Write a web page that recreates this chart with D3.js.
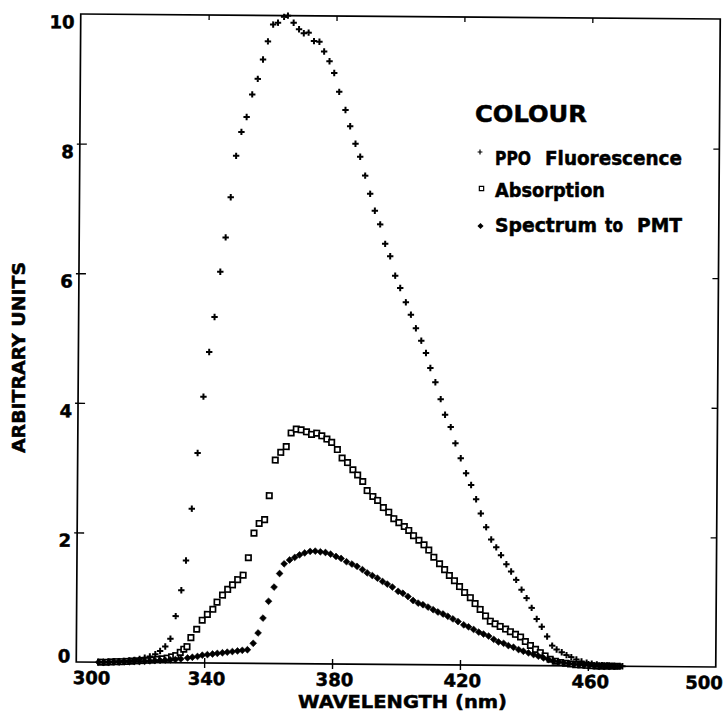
<!DOCTYPE html>
<html>
<head>
<meta charset="utf-8">
<script src="https://cdn.jsdelivr.net/npm/d3@7"></script>
<style>
  body { margin: 0; background: #fff; }
  svg { display: block; }
</style>
</head>
<body>
<svg id="chart" width="727" height="712"></svg>
<script>
// ---- data: wavelength (nm) and intensity (arbitrary units) ----
const ppoWavelength = [308.6,310.2,311.8,313.4,315.0,316.6,318.2,319.8,321.4,323.0,324.7,326.2,327.8,329.4,331.0,332.7,334.1,335.8,337.5,339.2,340.9,342.5,344.2,345.8,347.3,348.9,350.5,352.1,353.8,355.5,357.1,358.6,360.2,361.7,363.6,364.8,366.6,368.3,369.8,371.3,373.0,374.7,376.2,377.9,379.4,381.0,383.0,384.5,386.2,387.7,389.3,390.9,392.4,394.1,395.7,397.3,398.9,400.5,402.3,403.9,405.5,407.2,408.7,410.1,411.7,413.4,414.8,416.6,418.1,419.8,421.5,423.1,424.7,426.2,427.9,429.5,431.1,432.6,434.3,435.8,437.4,439.1,440.7,442.3,443.9,445.5,447.2,448.8,450.2,451.8,453.3,454.8,456.4,458.0,459.6,461.2,462.8,464.4,466.0,467.6,469.2,470.8];
const ppoValue = [0.0,0.005,0.01,0.015,0.02,0.03,0.04,0.055,0.075,0.095,0.13,0.18,0.25,0.37,0.72,1.12,1.58,2.38,3.24,4.11,4.80,5.34,6.04,6.57,7.19,7.83,8.20,8.43,8.78,9.02,9.32,9.60,9.86,9.89,9.98,10.0,9.89,9.79,9.73,9.74,9.61,9.60,9.45,9.30,9.12,8.83,8.55,8.30,8.03,7.83,7.54,7.26,7.00,6.79,6.49,6.30,6.00,5.81,5.59,5.40,5.19,5.00,4.81,4.58,4.36,4.10,3.86,3.67,3.42,3.19,2.96,2.78,2.56,2.34,2.13,1.94,1.82,1.70,1.56,1.45,1.32,1.17,1.04,0.89,0.72,0.60,0.45,0.31,0.25,0.21,0.165,0.135,0.10,0.07,0.05,0.035,0.025,0.015,0.01,0.005,0.0,0.0];

const absWavelength = [307.6,309.2,310.8,312.4,314.0,315.6,317.2,318.8,320.4,322.0,323.6,325.2,326.8,328.4,329.8,331.1,332.5,333.6,334.6,335.8,337.6,339.3,340.9,342.6,343.9,345.6,347.2,348.7,350.3,352.0,353.6,355.3,356.9,358.6,360.0,361.8,363.5,365.2,366.7,368.3,369.8,371.5,373.1,374.7,376.3,377.9,379.4,381.2,382.7,384.4,386.1,387.6,389.2,390.6,392.4,393.9,395.7,397.4,399.0,400.6,402.3,403.7,405.2,406.9,408.5,410.0,411.6,413.4,415.0,416.5,418.1,419.7,421.3,423.1,424.6,426.2,427.9,429.4,430.9,432.5,434.2,435.7,437.3,438.9,440.4,442.0,443.6,445.1,446.6,448.2,449.8,451.4,453.0,454.6,456.2,457.8,459.4,461.0,462.6,464.2,465.8,467.4,469.0];
const absValue = [0.0,0.0,0.005,0.01,0.01,0.015,0.02,0.025,0.03,0.035,0.04,0.05,0.06,0.07,0.09,0.11,0.16,0.21,0.25,0.39,0.52,0.66,0.75,0.83,0.94,1.05,1.14,1.21,1.29,1.36,1.63,2.01,2.16,2.22,2.59,3.14,3.26,3.35,3.56,3.62,3.61,3.58,3.54,3.56,3.52,3.47,3.42,3.31,3.18,3.11,3.00,2.92,2.82,2.68,2.59,2.53,2.42,2.35,2.25,2.19,2.13,2.07,1.99,1.92,1.85,1.77,1.66,1.56,1.47,1.38,1.30,1.21,1.12,1.04,0.95,0.86,0.76,0.68,0.64,0.60,0.56,0.52,0.48,0.44,0.37,0.31,0.25,0.20,0.15,0.10,0.07,0.05,0.04,0.03,0.02,0.015,0.01,0.005,0.0,0.0,0.0,0.0,0.0];

const pmtWavelength = [307.0,308.6,310.2,311.8,313.4,315.0,316.6,318.2,319.8,321.4,323.0,324.6,326.2,327.8,329.4,331.0,332.7,334.8,336.3,337.9,339.4,341.0,342.6,344.1,345.7,347.2,348.8,350.4,351.9,353.5,355.3,356.8,358.3,360.0,361.7,363.4,364.8,366.5,368.1,369.6,371.2,372.9,374.5,376.1,377.7,379.3,381.0,382.6,384.3,386.0,387.6,389.3,390.8,392.4,394.0,395.6,397.1,398.7,400.5,402.0,403.6,405.2,406.8,408.3,409.9,411.5,413.0,414.6,416.1,417.7,419.3,421.1,422.6,424.2,425.8,427.3,428.9,430.5,432.0,433.6,435.1,436.7,438.3,439.8,441.4,443.0,444.5,446.1,447.7,449.3,450.9,452.5,454.1,455.7,457.3,458.9,460.5,462.1,463.7,465.3,466.9,468.5,470.1];
const pmtValue = [0.0,0.0,0.0,0.005,0.005,0.01,0.01,0.015,0.015,0.02,0.025,0.03,0.035,0.04,0.045,0.05,0.06,0.076,0.087,0.10,0.12,0.13,0.14,0.15,0.16,0.17,0.18,0.19,0.20,0.21,0.31,0.47,0.70,0.96,1.18,1.39,1.54,1.60,1.64,1.68,1.71,1.735,1.74,1.73,1.72,1.695,1.66,1.63,1.58,1.545,1.51,1.46,1.41,1.37,1.33,1.28,1.24,1.195,1.13,1.10,1.05,0.99,0.95,0.925,0.89,0.85,0.815,0.785,0.75,0.71,0.67,0.62,0.59,0.55,0.51,0.48,0.45,0.40,0.36,0.34,0.305,0.28,0.245,0.22,0.195,0.17,0.145,0.12,0.095,0.075,0.06,0.045,0.035,0.025,0.02,0.015,0.01,0.005,0.0,0.0,0.0,0.0,0.0];

const xTicks = [300, 340, 380, 420, 460, 500];
const yTicks = [0, 2, 4, 6, 8, 10];

const legendTitle = "COLOUR";
const seriesNames = ["PPO  Fluorescence", "Absorption", "Spectrum to PMT"];

// ---- layout ----
const FONT = "'DejaVu Sans', 'Liberation Sans', sans-serif";
const W = 639.5, H = 648;
const svg = d3.select("#chart");
svg.append("rect").attr("width", 727).attr("height", 712).attr("fill", "#fff");

// heavy lettering: bold face plus a thin outline
function heavy(sel, size) {
  sel.attr("font-family", FONT).attr("font-weight", "bold").attr("font-size", size)
    .attr("fill", "#000").attr("stroke", "#000").attr("stroke-width", 0.5);
}

// the plotting frame sits very slightly sheared on the page
const plot = svg.append("g")
  .attr("transform", "matrix(1,0.00782,-0.00694,1,80.75,14)");

const x = d3.scaleLinear().domain([300, 500]).range([0, W]);
const y = d3.scaleLinear().domain([0, 10]).range([H, 0]);

// frame
plot.append("rect")
  .attr("width", W).attr("height", H)
  .attr("fill", "none").attr("stroke", "#000").attr("stroke-width", 1.7);

// bottom axis: ticks cross the baseline
const gx = plot.append("g").attr("transform", `translate(0,${H})`)
  .call(d3.axisBottom(x).tickValues(xTicks).tickSize(5).tickFormat(d3.format("d")));
gx.select(".domain").remove();
gx.selectAll(".tick line")
  .attr("y1", -5).attr("y2", 5)
  .attr("stroke", "#000").attr("stroke-width", 1.4)
  .attr("display", d => (d === 300 || d === 500) ? "none" : null);
gx.selectAll(".tick text")
  .attr("y", 22).attr("dy", 0)
  .attr("dx", d => d === 300 ? 15 : d === 500 ? -12 : 2)
  .call(heavy, 18);

// left axis
const gy = plot.append("g")
  .call(d3.axisLeft(y).tickValues(yTicks).tickSize(3).tickFormat(d3.format("d")));
gy.select(".domain").remove();
gy.selectAll(".tick line")
  .attr("x1", 7).attr("x2", -3)
  .attr("stroke", "#000").attr("stroke-width", 1.4)
  .attr("display", d => d === 0 || d === 10 ? "none" : null);
gy.selectAll(".tick text")
  .attr("x", -6).attr("dy", d => d === 0 ? 0 : 14)
  .call(heavy, 18);

// inward ticks on the top and right edges
const gTop = plot.append("g")
  .call(d3.axisTop(x).tickValues(xTicks.slice(1, -1)).tickSize(-5).tickFormat(""));
gTop.select(".domain").remove();
gTop.selectAll(".tick line").attr("stroke", "#000").attr("stroke-width", 1.3);

const gRight = plot.append("g").attr("transform", `translate(${W},0)`)
  .call(d3.axisRight(y).tickValues(yTicks.slice(1, -1)).tickSize(-6).tickFormat(""));
gRight.select(".domain").remove();
gRight.selectAll(".tick line").attr("stroke", "#000").attr("stroke-width", 1.3);

// ---- markers ----
const plusPath = "M-3.2,0H3.2M0,-3.2V3.2";
const squarePath = "M-2.7,-2.7H2.7V2.7H-2.7Z";
const diamondPath = "M0,-3.4L3.4,0L0,3.4L-3.4,0Z";

function drawSeries(xs, ys, path, style) {
  const g = plot.append("g");
  g.selectAll("path")
    .data(xs.map((w, i) => [w, ys[i]]))
    .join("path")
    .attr("transform", d => `translate(${x(d[0])},${y(d[1])})`)
    .attr("d", path)
    .call(style);
}

drawSeries(absWavelength, absValue, squarePath,
  s => s.attr("fill", "#fff").attr("stroke", "#000").attr("stroke-width", 1.7));
drawSeries(pmtWavelength, pmtValue, diamondPath,
  s => s.attr("fill", "#000").attr("stroke", "#000").attr("stroke-width", 0.6));
drawSeries(ppoWavelength, ppoValue, plusPath,
  s => s.attr("fill", "none").attr("stroke", "#000").attr("stroke-width", 2));

// ---- axis titles ----
svg.append("text")
  .attr("x", 298).attr("y", 708)
  .attr("textLength", 209).attr("lengthAdjust", "spacingAndGlyphs")
  .call(heavy, 18)
  .text("WAVELENGTH (nm)");

svg.append("text")
  .attr("transform", "translate(25,453) rotate(-90)")
  .attr("textLength", 191).attr("lengthAdjust", "spacingAndGlyphs")
  .call(heavy, 17)
  .text("ARBITRARY UNITS");

// ---- legend ----
const legend = svg.append("g");
legend.append("text")
  .attr("x", 475).attr("y", 122)
  .attr("textLength", 112).attr("lengthAdjust", "spacingAndGlyphs")
  .call(heavy, 23)
  .text(legendTitle);

const legendRows = [
  { marker: plusPath, baseline: 165, words: [[495, 36], [545, 137]],
    style: s => s.attr("fill", "none").attr("stroke", "#000").attr("stroke-width", 1.6).attr("transform", "translate(480,152) scale(0.75)") },
  { marker: squarePath, baseline: 197, words: [[495, 110]],
    style: s => s.attr("fill", "#fff").attr("stroke", "#000").attr("stroke-width", 1.5).attr("transform", "translate(481.5,188.5) scale(0.8)") },
  { marker: diamondPath, baseline: 232, words: [[495, 102], [605, 18], [637, 45]],
    style: s => s.attr("fill", "#000").attr("transform", "translate(480.5,226) scale(0.9)") }
];

legendRows.forEach((row, i) => {
  legend.append("path").attr("d", row.marker).call(row.style);
  const words = seriesNames[i].split(/\s+/);
  const t = legend.append("text")
    .attr("y", row.baseline)
    .call(heavy, 19);
  words.forEach((w, k) => {
    t.append("tspan")
      .attr("x", row.words[k][0])
      .attr("textLength", row.words[k][1])
      .attr("lengthAdjust", "spacingAndGlyphs")
      .text(w);
  });
});
</script>
</body>
</html>
